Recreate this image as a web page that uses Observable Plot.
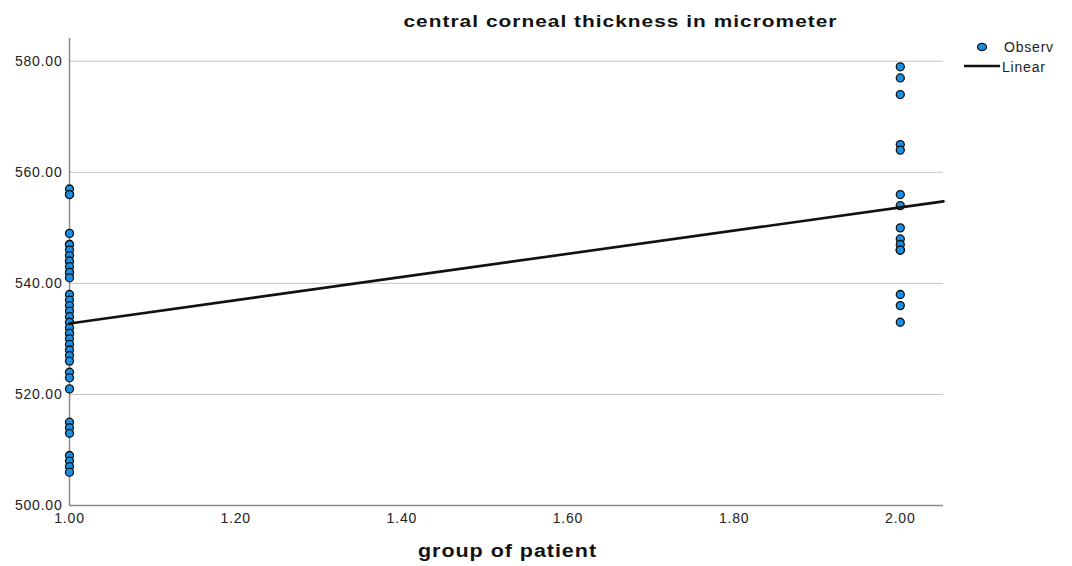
<!DOCTYPE html>
<html><head><meta charset="utf-8">
<script src="https://cdn.jsdelivr.net/npm/d3@7"></script>
<script src="https://cdn.jsdelivr.net/npm/@observablehq/plot@0.6"></script>
<style>
body{margin:0;background:#fff;font-family:"Liberation Sans",Arial,sans-serif;}
svg{font-family:"Liberation Sans",Arial,sans-serif;letter-spacing:0.8px;}
</style></head><body><div id="chart"></div>
<script>
const group1 = [557,556,556,549,547,547,546,545,544,544,543,542,542,541,538,537,536,535,534,533,532,531,531,530,529,528,527,526,524,523,521,515,514,513,509,508,507,506];
const group2 = [579,577,574,565,564,556,554,550,548,547,546,546,546,538,536,533];
const yTicks = [500,520,540,560,580];
const xTicks = [1,1.2,1.4,1.6,1.8,2];
const title = "central corneal thickness in micrometer";
const xLabel = "group of patient";
const legendLabels = ["Observ","Linear"];

const data = [
  ...group1.map(v => ({group:1, ccT:v})),
  ...group2.map(v => ({group:2, ccT:v}))
];
// least squares fit
const mx = d3.mean(data, d=>d.group), my = d3.mean(data, d=>d.ccT);
const slope = d3.sum(data, d=>(d.group-mx)*(d.ccT-my)) / d3.sum(data, d=>(d.group-mx)**2);
const intercept = my - slope*mx;
const xDomain = [1, 2.052];
const fit = xDomain.map(x => ({x, y: intercept + slope*x}));

const W = 1072, H = 566;
const chart = Plot.plot({
  width: W, height: H,
  marginLeft: 69, marginRight: 129, marginTop: 38, marginBottom: 61,
  style: {fontSize: "14px", color: "#222", background: "#fff"},
  x: {domain: xDomain, ticks: xTicks, tickFormat: d3.format(".2f"), tickSize: 0, tickPadding: 8, label: null},
  y: {domain: [500, 584.1], ticks: yTicks, tickFormat: d3.format(".2f"), tickSize: 0, tickPadding: 7, label: null},
  marks: [
    Plot.gridY(yTicks.filter(t=>t>500), {stroke: "#c4c4c4", strokeOpacity: 1, strokeWidth: 1}),
    Plot.ruleX([1], {stroke: "#8a8a8a", strokeWidth: 1.5}),
    Plot.ruleY([500], {stroke: "#8a8a8a", strokeWidth: 1.5}),
    Plot.dot(data, {x: "group", y: "ccT", r: 4, fill: "#1a8fe3", stroke: "#111", strokeWidth: 1.3, fillOpacity: 1}),
    Plot.line(fit, {x: "x", y: "y", stroke: "#111", strokeWidth: 2.6}),
    Plot.text([title], {frameAnchor: "top-left", dx: 551, dy: -23, text: d=>d, fontWeight: "bold", fontSize: 16, textAnchor: "middle", fill: "#111"}),
    Plot.text([xLabel], {frameAnchor: "bottom-left", dx: 438, dy: 51, text: d=>d, fontWeight: "bold", fontSize: 18, textAnchor: "middle", fill: "#111"})
  ]
});
document.getElementById("chart").append(chart);
const svg = d3.select(chart);
svg.selectAll("text").filter(function(){ return this.textContent === title; })
  .attr("textLength", 434).attr("lengthAdjust", "spacingAndGlyphs");
svg.selectAll("text").filter(function(){ return this.textContent === xLabel; })
  .attr("textLength", 179).attr("lengthAdjust", "spacingAndGlyphs");
// legend
const lg = svg.append("g").attr("font-size", 14).attr("fill", "#222").attr("text-anchor", "start");
lg.append("ellipse").attr("cx", 982).attr("cy", 47).attr("rx", 4.5).attr("ry", 3.6).attr("fill", "#1a8fe3").attr("stroke", "#111").attr("stroke-width", 1.2);
lg.append("text").attr("x", 1004).attr("y", 52).text(legendLabels[0]);
lg.append("line").attr("x1", 964).attr("x2", 1000).attr("y1", 66).attr("y2", 66).attr("stroke", "#111").attr("stroke-width", 2.6);
lg.append("text").attr("x", 1002).attr("y", 72).text(legendLabels[1]);
</script></body></html>
